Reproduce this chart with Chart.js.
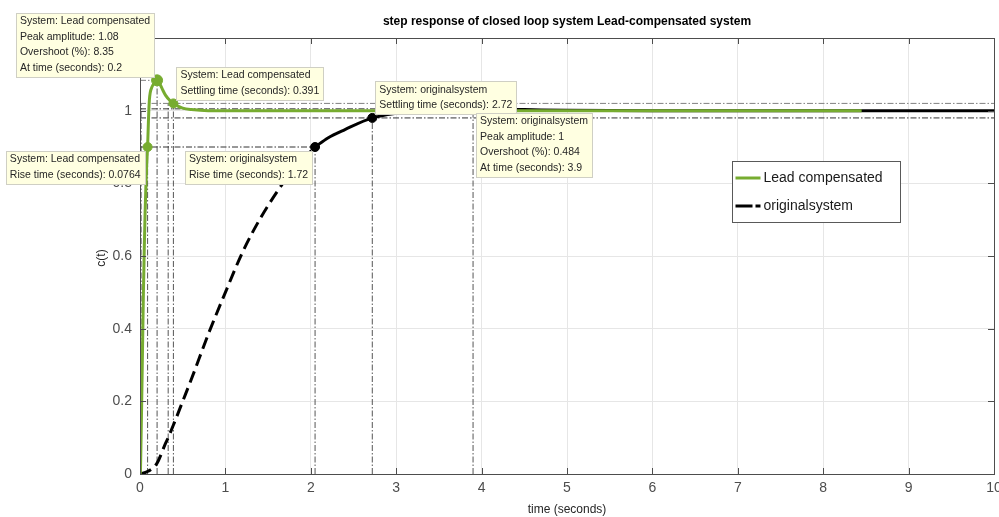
<!DOCTYPE html>
<html>
<head>
<meta charset="utf-8">
<script src="https://cdn.jsdelivr.net/npm/chart.js@4"></script>
<style>
  html, body { margin: 0; padding: 0; background: #fff; }
  canvas { display: block; }
</style>
</head>
<body>
<canvas id="c" width="999" height="517"></canvas>
<script>
// Lead compensated step response
const leadT = [0, 0.005, 0.0126, 0.02, 0.03, 0.04, 0.05, 0.06, 0.07, 0.08, 0.089, 0.1, 0.11, 0.12, 0.14, 0.17, 0.2, 0.23, 0.26, 0.3, 0.35, 0.391, 0.45, 0.5, 0.6, 0.8, 1.0, 2.0, 4.0, 6.0, 8.45];
const leadY = [0, 0.01, 0.1, 0.2, 0.35, 0.5, 0.62, 0.72, 0.8, 0.86, 0.9, 0.98, 1.03, 1.05, 1.065, 1.077, 1.0835, 1.075, 1.06, 1.042, 1.028, 1.02, 1.012, 1.007, 1.003, 1.0, 1.0, 1.0, 1.0, 1.0, 1.0];

// original system step response
const origT = [0, 0.1, 0.2, 0.3, 0.33, 0.4, 0.5, 0.6, 0.8, 1.0, 1.2, 1.4, 1.6, 1.8, 2.05, 2.2, 2.4, 2.72, 3.0, 3.4, 3.9, 4.5, 5.0, 6.0, 8.0, 10.0];
const origY = [0, 0.008, 0.03, 0.085, 0.1, 0.14, 0.2, 0.26, 0.385, 0.5, 0.61, 0.7, 0.775, 0.84, 0.9, 0.925, 0.948, 0.98, 0.993, 1.002, 1.005, 1.003, 1.001, 1.0, 1.0, 1.0];
const origDashEnd = 2.05;

// characteristic markers
const leadMarkT = [0.089, 0.2, 0.391];
const leadMarkY = [0.9, 1.0835, 1.02];
const origMarkT = [2.05, 2.72];
const origMarkY = [0.9, 0.98];
const origPeakT = [3.9];
const origPeakY = [1.005];

// dash-dot guide lines
const hLineY = [1.0835, 1.02, 0.98, 0.9, 1.005];
const hLineX0 = [0, 0, 0, 0, 0];
const hLineX1 = [0.2, 10, 10, 2.05, 3.9];
const hLineGray = [true, true, false, false, false];
const vLineX = [0.0126, 0.089, 0.2, 0.33, 0.391, 2.05, 2.72, 3.9];
const vLineY1 = [1.02, 0.9, 1.0835, 1.02, 1.02, 0.9, 0.98, 1.005];

// data tips
const tipX = [0.2, 0.391, 0.089, 2.05, 2.72, 3.9];
const tipY = [1.0835, 1.02, 0.9, 0.9, 0.98, 1.005];
const tipSide = ["ul", "ur", "dl", "dl", "ur", "dr"];
const tipText = [
  ["System: Lead compensated", "Peak amplitude: 1.08", "Overshoot (%): 8.35", "At time (seconds): 0.2"],
  ["System: Lead compensated", "Settling time (seconds): 0.391"],
  ["System: Lead compensated", "Rise time (seconds): 0.0764"],
  ["System: originalsystem", "Rise time (seconds): 1.72"],
  ["System: originalsystem", "Settling time (seconds): 2.72"],
  ["System: originalsystem", "Peak amplitude: 1", "Overshoot (%): 0.484", "At time (seconds): 3.9"]
];

const xTicks = [0, 1, 2, 3, 4, 5, 6, 7, 8, 9, 10];
const titleText = "step response of closed loop system Lead-compensated system";
const xTitle = "time (seconds)";
const yTitle = "c(t)";

const GREEN = "#77AC30";
const FONT = "'Liberation Sans', Arial, Helvetica, sans-serif";
const pts = (ts, ys) => ts.map((t, i) => ({ x: t, y: ys[i] }));

const datasets = [
  { label: "Lead compensated", data: pts(leadT, leadY), borderColor: GREEN, borderWidth: 3,
    pointRadius: 0, cubicInterpolationMode: "monotone", legend: true },
  { label: "originalsystem", data: pts(origT, origY).filter(p => p.x <= origDashEnd), borderColor: "#000",
    borderWidth: 3, borderDash: [12, 6], pointRadius: 0, cubicInterpolationMode: "monotone", legend: true },
  { label: "originalsystem tail", data: pts(origT, origY).filter(p => p.x >= origDashEnd), borderColor: "#000",
    borderWidth: 3, pointRadius: 0, cubicInterpolationMode: "monotone" },
  { label: "lead marks", data: pts(leadMarkT, leadMarkY), showLine: false, pointRadius: [4.5, 5.5, 4.5],
    pointBackgroundColor: GREEN, pointBorderColor: GREEN, order: -2 },
  { label: "orig marks", data: pts(origMarkT, origMarkY), showLine: false, pointRadius: 4.5,
    pointBackgroundColor: "#000", pointBorderColor: "#000", order: -2 },
  { label: "orig peak", data: pts(origPeakT, origPeakY), showLine: false, pointRadius: 4.5,
    pointBackgroundColor: "#999", pointBorderColor: "#999", order: -2 },
];
hLineY.forEach((y, i) => datasets.push({
  label: "h" + i, data: [{ x: hLineX0[i], y }, { x: hLineX1[i], y }],
  borderColor: hLineGray[i] ? "#808080" : "#333", borderWidth: 1, borderDash: [6, 2, 1.5, 2],
  pointRadius: 0, order: 5
}));
vLineX.forEach((x, i) => datasets.push({
  label: "v" + i, data: [{ x, y: 0 }, { x, y: vLineY1[i] }],
  borderColor: "#555", borderWidth: 1, borderDash: [6, 2, 1.5, 2], pointRadius: 0, order: 5
}));

const decor = {
  id: "decor",
  beforeDatasetsDraw(chart) {
    const { ctx, chartArea: a } = chart;
    ctx.save();
    ctx.fillStyle = "#000";
    ctx.font = "bold 12px " + FONT;
    ctx.textAlign = "center";
    ctx.textBaseline = "middle";
    ctx.fillText(titleText, (a.left + a.right) / 2, 22);
    ctx.fillStyle = "#262626";
    ctx.font = "12px " + FONT;
    ctx.fillText(xTitle, (a.left + a.right) / 2, 510);
    ctx.translate(a.left - 38, (a.top + a.bottom) / 2 + 2);
    ctx.rotate(-Math.PI / 2);
    ctx.fillText(yTitle, 0, 0);
    ctx.restore();
  },
  afterDatasetsDraw(chart) {
    const { ctx, chartArea: a, scales: { x, y } } = chart;
    ctx.save();
    // frame and inner ticks
    ctx.strokeStyle = "#4d4d4d";
    ctx.lineWidth = 1;
    ctx.strokeRect(Math.round(a.left) + 0.5, Math.round(a.top) + 0.5, Math.round(a.right - a.left), Math.round(a.bottom - a.top));
    ctx.beginPath();
    xTicks.forEach(t => {
      const px = Math.round(x.getPixelForValue(t)) + 0.5;
      ctx.moveTo(px, a.bottom); ctx.lineTo(px, a.bottom - 6);
      ctx.moveTo(px, a.top); ctx.lineTo(px, a.top + 6);
    });
    y.ticks.forEach(tk => {
      const py = Math.round(y.getPixelForValue(tk.value)) + 0.5;
      ctx.moveTo(a.left, py); ctx.lineTo(a.left + 6, py);
      ctx.moveTo(a.right, py); ctx.lineTo(a.right - 6, py);
    });
    ctx.stroke();

    // data tips
    ctx.font = "10.5px " + FONT;
    ctx.textBaseline = "middle";
    ctx.textAlign = "left";
    tipText.forEach((lines, i) => {
      const px = x.getPixelForValue(tipX[i]);
      const py = y.getPixelForValue(tipY[i]);
      const w = Math.max(...lines.map(s => ctx.measureText(s).width)) + 8;
      const h = 8 + (lines.length - 1) * 15.5 + 9;
      const side = tipSide[i];
      const bx = side[1] === "l" ? px - 3 - w : px + 3;
      const by = side[0] === "u" ? py - 4 - h : py + 4;
      ctx.fillStyle = "#ffffe1";
      ctx.fillRect(Math.round(bx), Math.round(by), Math.round(w), Math.round(h));
      ctx.strokeStyle = "#cfcfc4";
      ctx.strokeRect(Math.round(bx) + 0.5, Math.round(by) + 0.5, Math.round(w), Math.round(h));
      ctx.fillStyle = "#262626";
      lines.forEach((s, j) => ctx.fillText(s, bx + 4, by + 8.5 + j * 15.5));
    });

    // legend
    const lx = a.right - 261.5, ly = a.top + 123.5;
    ctx.fillStyle = "#fff";
    ctx.fillRect(lx, ly, 168, 61);
    ctx.strokeStyle = "#595959";
    ctx.strokeRect(lx, ly, 168, 61);
    ctx.font = "14px " + FONT;
    ctx.fillStyle = "#1a1a1a";
    const legendSets = chart.data.datasets.filter(d => d.legend);
    legendSets.forEach((d, j) => {
      const cy = ly + 16.5 + j * 28;
      ctx.beginPath();
      ctx.strokeStyle = d.borderColor;
      ctx.lineWidth = 3;
      ctx.setLineDash(d.borderDash ? [17, 3] : []);
      ctx.moveTo(lx + 3, cy); ctx.lineTo(lx + 28, cy);
      ctx.stroke();
      ctx.setLineDash([]);
      ctx.fillText(d.label, lx + 31, cy);
    });
    ctx.restore();
  }
};

new Chart(document.getElementById("c"), {
  type: "line",
  data: { datasets },
  options: {
    responsive: false,
    animation: false,
    devicePixelRatio: 1,
    layout: { padding: { top: 38, right: 5, left: 0, bottom: 0 }, autoPadding: false },
    plugins: { legend: { display: false }, tooltip: { enabled: false }, title: { display: false } },
    elements: { line: { borderCapStyle: "butt" } },
    scales: {
      x: {
        type: "linear", min: 0, max: 10,
        afterFit: s => { s.height = 43; s.paddingLeft = 0; s.paddingRight = 0; },
        afterBuildTicks: s => { s.ticks = xTicks.map(v => ({ value: v })); },
        ticks: { color: "#4d4d4d", font: { family: FONT, size: 14 }, padding: 6, maxRotation: 0,
                 callback: v => String(v) },
        grid: { color: "#e6e6e6", drawTicks: false },
        border: { color: "#4d4d4d" }
      },
      y: {
        min: 0, max: 1.2,
        afterFit: s => { s.width = 140; s.paddingTop = 0; s.paddingBottom = 0; },
        ticks: { stepSize: 0.2, color: "#4d4d4d", font: { family: FONT, size: 14 }, padding: 8,
                 callback: v => v > 1.1 ? "" : String(+Number(v).toFixed(1)) },
        grid: { color: "#e6e6e6", drawTicks: false },
        border: { color: "#4d4d4d" }
      }
    }
  },
  plugins: [decor]
});
</script>
</body>
</html>
